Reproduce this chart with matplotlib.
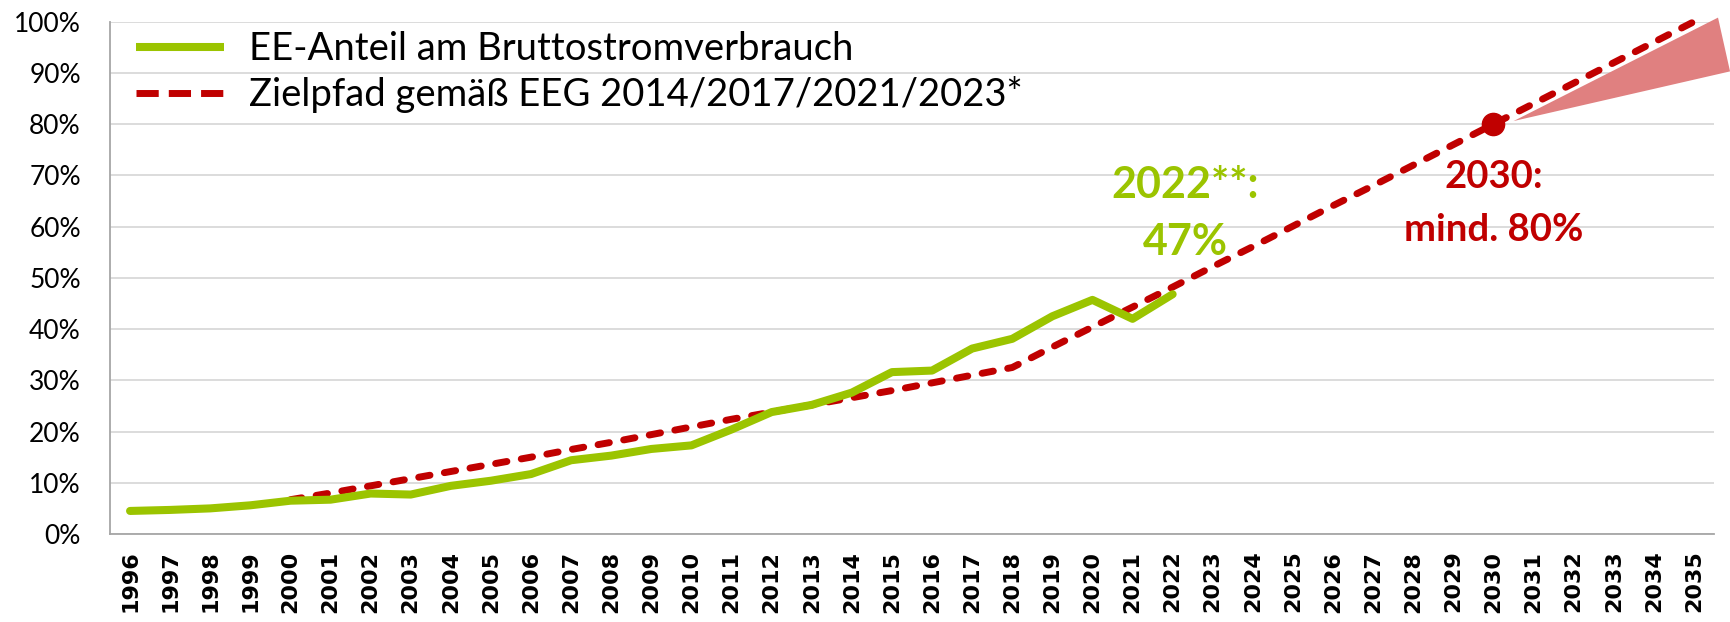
import matplotlib
matplotlib.use("Agg")
import matplotlib.pyplot as plt
from matplotlib.patches import Polygon
from matplotlib.lines import Line2D

# ---- data ----
years = ["1996", "1997", "1998", "1999", "2000", "2001", "2002", "2003", "2004", "2005",
         "2006", "2007", "2008", "2009", "2010", "2011", "2012", "2013", "2014", "2015",
         "2016", "2017", "2018", "2019", "2020", "2021", "2022", "2023", "2024", "2025",
         "2026", "2027", "2028", "2029", "2030", "2031", "2032", "2033", "2034", "2035"]

ee_share = [4.5, 4.7, 5.0, 5.6, 6.5, 6.7, 7.9, 7.7, 9.4, 10.4,
            11.7, 14.4, 15.3, 16.6, 17.3, 20.4, 23.8, 25.2, 27.6, 31.6,
            31.9, 36.2, 38.1, 42.5, 45.7, 42.0, 46.8]

target_years = years[4:]
target_path = [6.7, 8.0, 9.4, 10.8, 12.2, 13.6, 15.0, 16.5, 17.9, 19.4,
               20.9, 22.4, 23.8, 25.2, 26.6, 28.0, 29.5, 31.0, 32.5, 36.5,
               40.4, 44.3, 48.2, 52.2, 56.1, 60.1, 64.1, 68.0, 72.0, 76.0,
               80.0, 84.0, 88.0, 92.0, 96.0, 100.0]

goal_year = "2030"
goal_value = 80.0

corridor_x = [34.5, 39.6, 39.9]
corridor_y = [80.6, 100.8, 90.3]

yticks = [0, 10, 20, 30, 40, 50, 60, 70, 80, 90, 100]
ytick_labels = ["0%", "10%", "20%", "30%", "40%", "50%", "60%", "70%", "80%", "90%", "100%"]

legend_labels = ["EE-Anteil am Bruttostromverbrauch",
                 "Zielpfad gemäß EEG 2014/2017/2021/2023*"]

GREEN = "#9BC400"
RED = "#C00000"
WEDGE = "#E08080"

W, H = 1730, 622
fig = plt.figure(figsize=(W / 100, H / 100), dpi=100)
ax = fig.add_axes([110 / W, 88 / H, 1604 / W, 512.3 / H])

xi = {y: i for i, y in enumerate(years)}

ax.add_patch(Polygon(list(zip(corridor_x, corridor_y)), closed=True,
                     facecolor=WEDGE, edgecolor="none", clip_on=False, zorder=2))

ax.plot([xi[y] for y in years[:len(ee_share)]], ee_share, color=GREEN, lw=5.8,
        solid_capstyle="round", solid_joinstyle="round", zorder=4)
ax.plot([xi[y] for y in target_years], target_path, color=RED, lw=5.0,
        dashes=(1.65, 2.1), dash_capstyle="round", zorder=3, clip_on=False)
ax.plot([xi[goal_year]], [goal_value], "o", color=RED, markersize=16, zorder=5)

ax.set_xlim(-0.5, len(years) - 0.5)
ax.set_ylim(0, 100)
ax.set_xticks(range(len(years)))
ax.set_xticklabels(years, rotation=90, fontfamily="DejaVu Sans", fontweight="bold",
                   fontsize=16)
ax.set_yticks(yticks)
ax.set_yticklabels(ytick_labels, fontfamily="Lato", fontsize=19)
ax.tick_params(axis="x", length=0, pad=12)
ax.tick_params(axis="y", length=0, pad=21)

ax.yaxis.grid(True, color="#D9D9D9", lw=1.3)
ax.set_axisbelow(True)
for s in ["top", "right"]:
    ax.spines[s].set_visible(False)
for s in ["left", "bottom"]:
    ax.spines[s].set_color("#A6A6A6")
    ax.spines[s].set_linewidth(1.3)

# annotations
ax.text(26.31, 65.6, "2022**:", color=GREEN, fontfamily="Lato", fontweight="bold",
        fontsize=31, ha="center", va="baseline")
ax.text(26.31, 54.4, "47%", color=GREEN, fontfamily="Lato", fontweight="bold",
        fontsize=31, ha="center", va="baseline")
ax.text(34.01, 67.6, "2030:", color=RED, fontfamily="Lato", fontweight="bold",
        fontsize=27.5, ha="center", va="baseline")
ax.text(34.01, 57.2, "mind. 80%", color=RED, fontfamily="Lato", fontweight="bold",
        fontsize=27.5, ha="center", va="baseline")

# legend
handles = [Line2D([], [], color=GREEN, lw=5.8, solid_capstyle="butt"),
           Line2D([], [], color=RED, lw=5.0, dashes=(3.2, 1.45), dash_capstyle="butt")]
leg = ax.legend(handles, legend_labels, loc="upper left",
                bbox_to_anchor=(136 / W, 1 - 31 / H), bbox_transform=fig.transFigure,
                frameon=False, borderpad=0, borderaxespad=0,
                handlelength=2.3, handletextpad=0.65, labelspacing=0.24,
                prop={"family": "Lato", "size": 27.5})

fig.savefig("out.png", dpi=100)
